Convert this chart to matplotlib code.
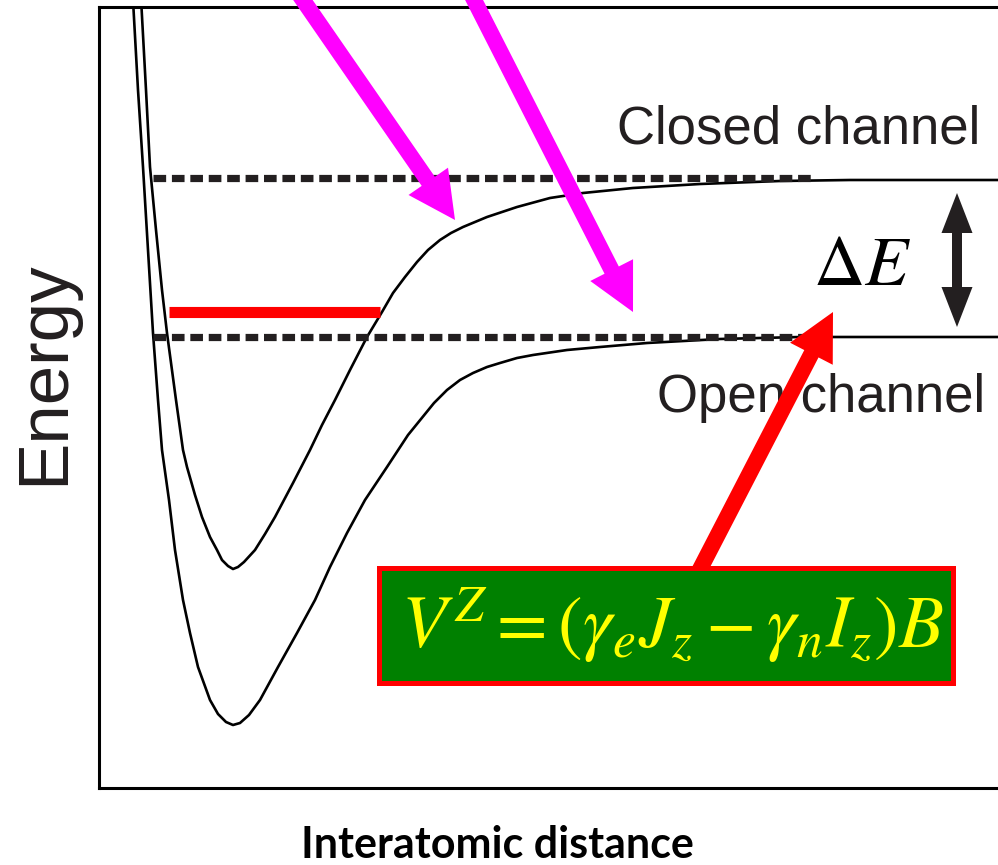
import matplotlib
matplotlib.use("Agg")
import matplotlib.pyplot as plt
from matplotlib.patches import FancyArrow, Rectangle

# Potential curves (distance r, energy E; arbitrary units)
closed_r = [42, 47, 51, 57, 63, 68, 77, 84, 88, 96, 103, 111, 118, 123, 129, 134,
            139, 145, 156, 166, 176, 194, 211, 223, 236, 251, 268, 283, 294, 306,
            318, 329, 341, 352, 364, 376, 388, 403, 418, 451, 484, 534, 601, 681,
            751, 899]
closed_E = [790, 698, 621, 558, 498, 455, 388, 338, 321, 293, 271, 251, 238, 228,
            222, 219, 221, 226, 238, 254, 271, 305, 338, 363, 388, 418, 451, 476,
            495, 511, 526, 538, 548, 555, 561, 566, 571, 576, 581, 590, 595, 600,
            604, 607, 608, 608]

open_r = [34, 39, 44, 49, 54, 59, 63, 70, 76, 84, 91, 99, 111, 119, 127, 134, 141,
          150, 161, 179, 198, 216, 231, 248, 266, 288, 309, 322, 335, 348, 361,
          374, 388, 401, 418, 434, 468, 501, 548, 621, 701, 899]
open_E = [788, 698, 621, 538, 455, 388, 338, 288, 238, 188, 155, 121, 88, 74, 66,
          63, 65, 73, 88, 121, 155, 188, 221, 255, 288, 321, 353, 369, 385, 398,
          408, 415, 421, 425, 430, 433, 438, 441, 445, 449, 451, 451]

threshold_E = [610, 451]      # closed / open channel thresholds
threshold_r = [54, 713]
bound_E = 476                 # closed-channel bound state
bound_r = [70, 281]

plt.rcParams["mathtext.fontset"] = "stix"

W, H = 998, 865
fig = plt.figure(figsize=(W / 100, H / 100), dpi=100)
ax = fig.add_axes([99 / W, (H - 788) / H, (W - 99) / W, (788 - 7) / H])
ax.set_xlim(0, W - 99)
ax.set_ylim(0, 788 - 7)
for side in ["top", "left", "bottom"]:
    ax.spines[side].set_linewidth(2.2)
ax.spines["right"].set_visible(False)
ax.set_xticks([])
ax.set_yticks([])

ink = "#231f20"
ax.plot(closed_r, closed_E, color="black", lw=1.9, zorder=2)
ax.plot(open_r, open_E, color="black", lw=1.9, zorder=2)
for e in threshold_E:
    ax.plot(threshold_r, [e, e], color=ink, lw=5.2, ls=(0, (1.75, 0.8)), zorder=2)
ax.plot(bound_r, [bound_E, bound_E], color="red", lw=8, solid_capstyle="butt", zorder=3)

ax.text(518, 644, "Closed channel", fontsize=38, family="Liberation Sans", color=ink)
ax.text(558, 376, "Open channel", fontsize=38, family="Liberation Sans", color=ink)
ax.text(763, 503, r"$\Delta E$", fontsize=51, color="black", ha="center", va="baseline")


def arrow(x0, y0, x1, y1, color, width=16, head_w=48, head_l=47):
    ax.add_patch(FancyArrow(x0, y0, x1 - x0, y1 - y0, width=width, head_width=head_w,
                            head_length=head_l, length_includes_head=True,
                            color=color, lw=0, zorder=5, clip_on=False))


arrow(197, 798, 356, 568, "#ff00ff")
arrow(370, 798, 534, 476, "#ff00ff")
arrow(598, 213, 734, 476, "red")
# double-headed Delta E arrow
arrow(858, 528, 858, 595, ink, width=10, head_w=31, head_l=40)
arrow(858, 528, 858, 461, ink, width=10, head_w=31, head_l=40)

ax.add_patch(Rectangle((279.5, 105.5), 574, 115, facecolor="#008000",
                       edgecolor="red", lw=3.6, zorder=6))
ax.text(573, 140, r"$V^Z = (\gamma_e J_z - \gamma_n I_z)B$", fontsize=53,
        color="#ffff00", ha="center", va="baseline", zorder=7)

fig.text(45.5 / W, 1 - 372.5 / H, "Energy", rotation=90, fontsize=51,
         family="Liberation Sans", color=ink, ha="center", va="center")
fig.text(497.5 / W, (H - 858) / H, "Interatomic distance", fontsize=31,
         family="Lato", fontweight="bold", color="black", ha="center", va="baseline")

fig.savefig("out.png", dpi=100)
